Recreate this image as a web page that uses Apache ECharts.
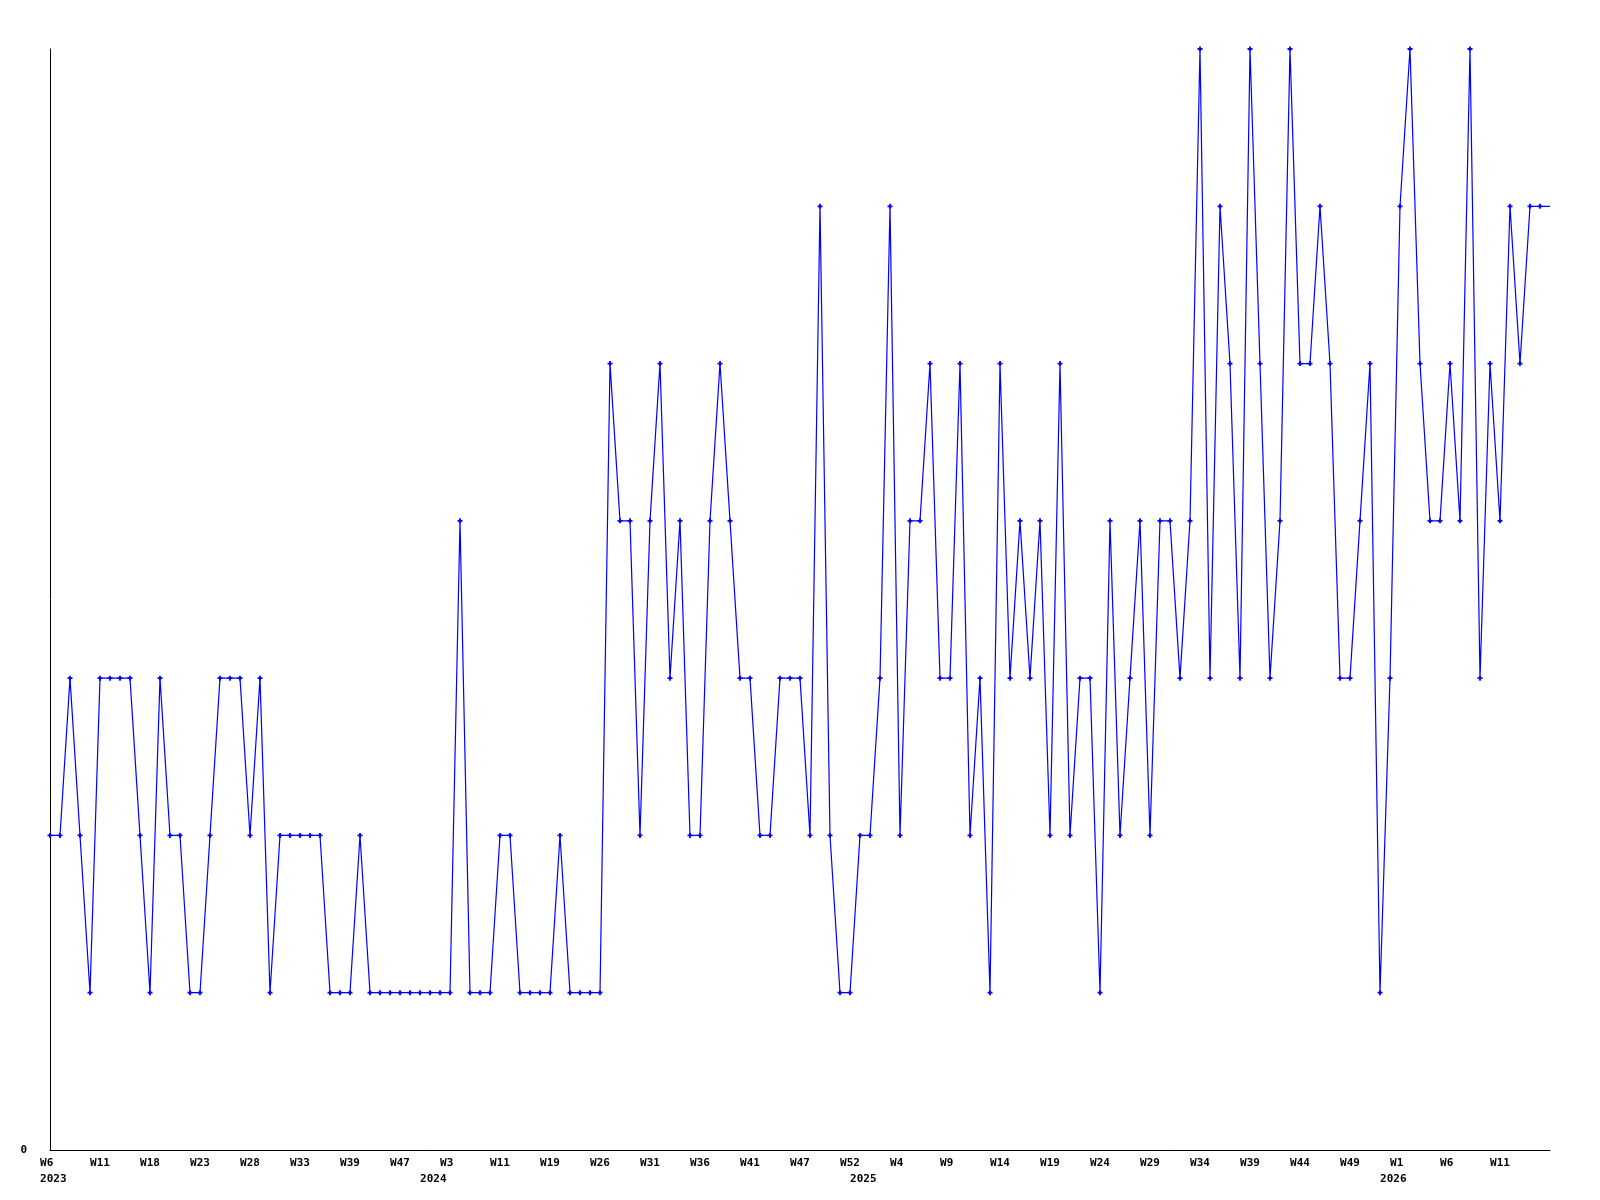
<!DOCTYPE html>
<html>
<head>
<meta charset="utf-8">
<script src="https://cdn.jsdelivr.net/npm/echarts@6/dist/echarts.min.js"></script>
<style>
html,body{margin:0;padding:0;background:#fff;}
#chart{width:1600px;height:1200px;}
</style>
</head>
<body>
<div id="chart"></div>
<script>
// Weekly values, 2023 W6 onward (one per category position)
const values = [
  2,2,3,2,1,3,3,3,3,2, 1,3,2,2,1,1,2,3,3,3,
  2,3,1,2,2,2,2,2,1,1, 1,2,1,1,1,1,1,1,1,1,
  1,4,1,1,1,2,2,1,1,1, 1,2,1,1,1,1,5,4,4,2,
  4,5,3,4,2,2,4,5,4,3, 3,2,2,3,3,3,2,6,2,1,
  1,2,2,3,6,2,4,4,5,3, 3,5,2,3,1,5,3,4,3,4,
  2,5,2,3,3,1,4,2,3,4, 2,4,4,3,4,7,3,6,5,3,
  7,5,3,4,7,5,5,6,5,3, 3,4,5,1,3,6,7,5,4,4,
  5,4,7,3,5,4,6,5,6,6, 6
];
// Week tick labels and their category positions
const weekTickIndex = [0,5,10,15,20,25,30,35,40,45,50,55,60,65,70,75,80,85,90,95,100,105,110,115,120,125,130,135,140,145];
const weekTickText  = ['W6','W11','W18','W23','W28','W33','W39','W47','W3','W11','W19','W26','W31','W36','W41','W47','W52','W4','W9','W14','W19','W24','W29','W34','W39','W44','W49','W1','W6','W11'];
// Year labels and their category positions
const yearIndex = [0,38,81,134];
const yearText  = ['2023','2024','2025','2026'];
const yTickLabels = ['0'];

const categories = values.map((v, i) => String(i));
const labelMap = {};
weekTickIndex.forEach((idx, k) => { labelMap[idx] = { w: weekTickText[k], y: '' }; });
yearIndex.forEach((idx, k) => {
  if (!labelMap[idx]) labelMap[idx] = { w: '', y: '' };
  labelMap[idx].y = yearText[k];
});

const seriesData = values.map((v, i) => i === values.length - 1 ? { value: v, symbol: 'none' } : v);

const FONT = 'DejaVu Sans Mono';
const chart = echarts.init(document.getElementById('chart'), null, { renderer: 'canvas' });
chart.setOption({
  backgroundColor: '#ffffff',
  animation: false,
  grid: { left: 50, right: 50, top: 49, bottom: 50, containLabel: false },
  xAxis: {
    type: 'category',
    data: categories,
    boundaryGap: false,
    axisLine: { show: true, lineStyle: { color: '#000', width: 1 } },
    axisTick: { show: false },
    splitLine: { show: false },
    axisLabel: {
      interval: 0,
      hideOverlap: false,
      margin: 5,
      fontFamily: FONT,
      fontWeight: 'bold',
      fontSize: 11,
      lineHeight: 16,
      color: '#000',
      align: 'center',
      formatter: function (val, idx) {
        const m = labelMap[idx];
        if (!m) return '';
        const w = m.w ? (m.w + (m.w.length < 3 ? ' ' : '')) : '';
        return m.y ? (w + '\n ' + m.y) : w;
      }
    }
  },
  yAxis: {
    type: 'value',
    min: 0,
    max: 7,
    interval: 7,
    axisLine: { show: true, lineStyle: { color: '#000', width: 1 } },
    axisTick: { show: false },
    splitLine: { show: false },
    axisLabel: {
      margin: 23,
      fontFamily: FONT,
      fontWeight: 'bold',
      fontSize: 11,
      color: '#000',
      formatter: function (v) { return v === 0 ? yTickLabels[0] : ''; }
    }
  },
  series: [{
    type: 'line',
    data: seriesData,
    symbol: 'path://M1.6,0 L3.4,0 L3.4,1.6 L5,1.6 L5,3.4 L3.4,3.4 L3.4,5 L1.6,5 L1.6,3.4 L0,3.4 L0,1.6 L1.6,1.6 Z',
    symbolSize: 5,
    showAllSymbol: true,
    lineStyle: { color: '#0000ff', width: 1.2 },
    itemStyle: { color: '#0000ff', borderWidth: 0 },
    emphasis: { disabled: true },
    clip: false
  }]
});
</script>
</body>
</html>
